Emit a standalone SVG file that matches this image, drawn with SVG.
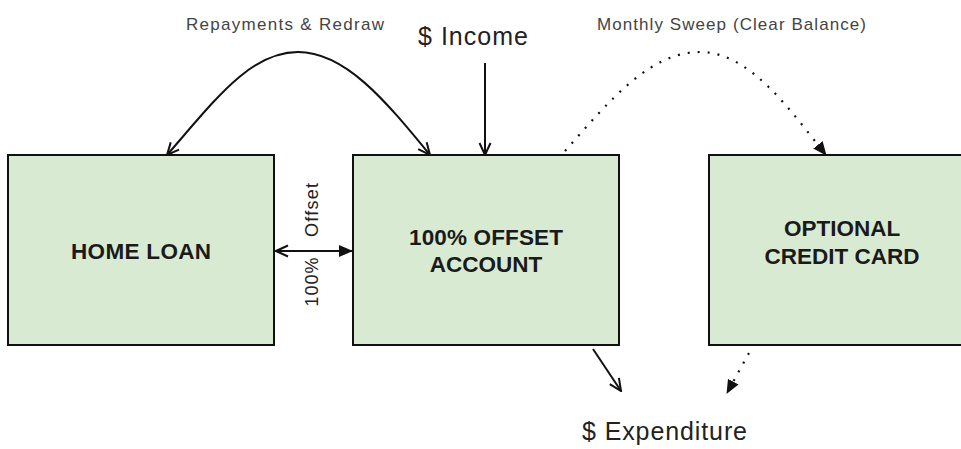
<svg xmlns="http://www.w3.org/2000/svg" width="961" height="449" viewBox="0 0 961 449">
  <style>
    .box { fill: #d9ead3; stroke: #111; stroke-width: 2; }
    .lbl { font-family: "Liberation Sans", Arial, sans-serif; font-weight: bold; font-size: 22.5px; fill: #1a1a1a; text-anchor: middle; }
    .note { font-family: "Liberation Sans", Arial, sans-serif; font-size: 17px; fill: #444; }
    .big { font-family: "Liberation Sans", Arial, sans-serif; font-size: 25px; fill: #222; }
    .side { font-family: "Liberation Sans", Arial, sans-serif; font-size: 18px; fill: #222; text-anchor: middle; }
    .conn { fill: none; stroke: #111; stroke-width: 2; }
    .dot { fill: none; stroke: #111; stroke-width: 2.2; stroke-dasharray: 2 8; }
  </style>
  <defs>
    <marker id="open" viewBox="0 0 14 14" refX="13" refY="7" markerWidth="14" markerHeight="14" markerUnits="userSpaceOnUse" orient="auto-start-reverse">
      <path d="M1,1.5 L13,7 L1,12.5" fill="none" stroke="#111" stroke-width="2"/>
    </marker>
    <marker id="solid" viewBox="0 0 14 14" refX="13" refY="7" markerWidth="14" markerHeight="14" markerUnits="userSpaceOnUse" orient="auto-start-reverse">
      <path d="M0,1 L14,7 L0,13 Z" fill="#111"/>
    </marker>
  </defs>

  <g id="home-loan">
    <rect class="box" x="8" y="155" width="266" height="190"/>
    <text class="lbl" x="141" y="259" textLength="140">HOME LOAN</text>
  </g>
  <g id="offset-account">
    <rect class="box" x="353" y="155" width="266" height="190"/>
    <text class="lbl" x="486" y="245" textLength="154">100% OFFSET</text>
    <text class="lbl" x="486" y="272">ACCOUNT</text>
  </g>
  <g id="credit-card">
    <rect class="box" x="709" y="155" width="266" height="190"/>
    <text class="lbl" x="842" y="236">OPTIONAL</text>
    <text class="lbl" x="842" y="264">CREDIT CARD</text>
  </g>
  <g id="income">
    <text class="big" x="418" y="45" textLength="110">$ Income</text>
  </g>
  <g id="expenditure">
    <text class="big" x="582" y="440" textLength="165">$ Expenditure</text>
  </g>

  <g id="connectors">
    <path class="conn" d="M167,155 C215,100 250,52 298,52 C345,52 385,100 430,155" marker-start="url(#open)" marker-end="url(#open)"/>
    <text class="note" x="186" y="30" textLength="198">Repayments &amp; Redraw</text>
    <path class="dot" d="M565,151 C610,100 650,52 700,52 C750,52 790,110 826,155" marker-end="url(#solid)"/>
    <text class="note" x="597" y="30" textLength="269">Monthly Sweep (Clear Balance)</text>
    <path class="conn" d="M485,63 L485,155" marker-end="url(#open)"/>
    <path class="conn" d="M276,251 L352,251" marker-start="url(#open)" marker-end="url(#solid)"/>
    <text class="side" transform="translate(318,210) rotate(-90)" textLength="54">Offset</text>
    <text class="side" transform="translate(318,282) rotate(-90)" textLength="49">100%</text>
    <path class="conn" d="M593,349 L621,391" marker-end="url(#open)"/>
    <path class="dot" d="M749,353 L727,393" marker-end="url(#solid)"/>
  </g>
</svg>
